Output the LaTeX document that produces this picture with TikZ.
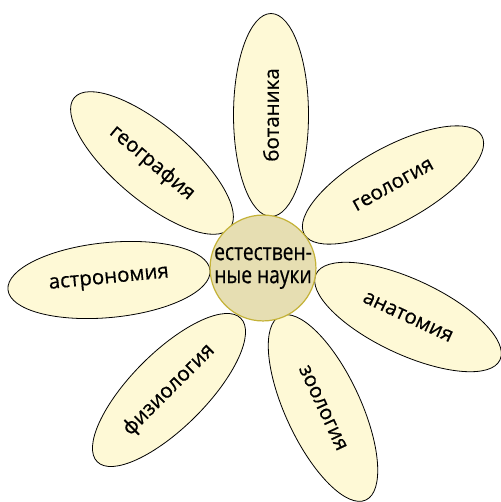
\documentclass[tikz,border=0pt]{standalone}
\usepackage{fontspec}
\setmainfont{Open Sans}[FakeBold=0.5]
\newfontfamily\narrowfont{Open Sans}[FakeStretch=0.8, FakeBold=0.5]
\usetikzlibrary{shapes.geometric}

\definecolor{petalfill}{HTML}{FEF9D6}
\definecolor{corefill}{HTML}{E6DEB2}
\definecolor{coredraw}{HTML}{C4B238}

\tikzset{
  petal/.style={ellipse, draw=black, line width=0.8pt, fill=petalfill, inner sep=0pt,
    minimum width=203pt, minimum height=75pt, font=\fontsize{20.5}{24}\selectfont},
  core/.style={circle, draw=coredraw, line width=1.2pt, fill=corefill, inner sep=0pt,
    minimum size=104pt, align=center, font=\narrowfont\fontsize{24}{23}\selectfont}
}

\begin{document}
\begin{tikzpicture}[x=1pt, y=-1pt]
        \useasboundingbox (0,0) rectangle (500,502);
        \node(botanika) at (271,115) [petal, rotate=90] {ботаника};
        \node(geologia) at (393,185) [petal, rotate=29] {геология};
        \node(anatomia) at (408,317) [petal, rotate=-25] {анатомия};
        \node(zoologia) at (323,408) [petal, rotate=-65] {зоология};
        \node(fiziologia) at (169,390) [petal, rotate=45] {физиология};
        \node(astronomia) at (109,280) [petal, rotate=5.5] {астрономия};
        \node(geografia) at (152,163) [petal, rotate=-40] {география};
        \node(nauki) at (263,268) [core] {естествен-\\ные науки};
    \end{tikzpicture}
\end{document}
